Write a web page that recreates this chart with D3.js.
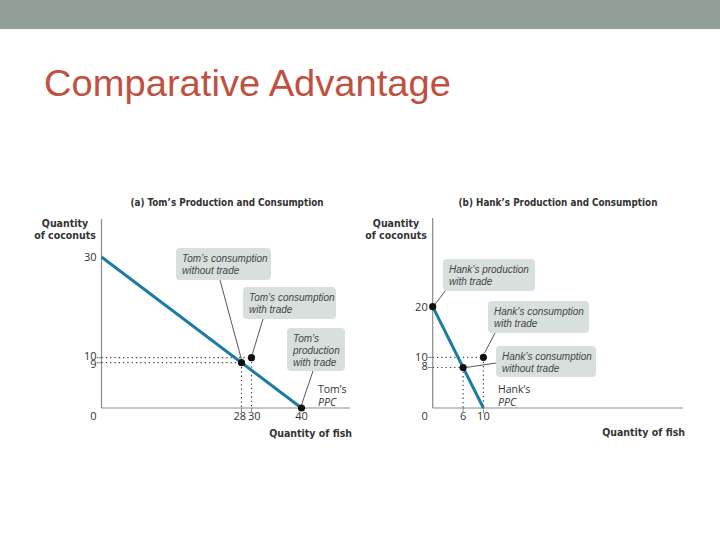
<!DOCTYPE html>
<html><head><meta charset="utf-8">
<script src="https://cdn.jsdelivr.net/npm/d3@7"></script>
<style>
body{margin:0;background:#fff;}
svg{display:block;}
</style></head>
<body>
<svg id="c" width="720" height="540"></svg>
<script>
// ---- data ----
const slideTitle = "Comparative Advantage";
const panelTitles = ["(a) Tom’s Production and Consumption", "(b) Hank’s Production and Consumption"];
const yAxisLabel = ["Quantity", "of coconuts"];
const xAxisLabel = "Quantity of fish";
// PPC endpoints [fish, coconuts]
const tomPPC = [[0, 30], [40, 0]];
const hankPPC = [[0, 20], [10, 0]];
// points [fish, coconuts]
const tomPoints = [[28, 9], [30, 10], [40, 0]];
const hankPoints = [[0, 20], [6, 8], [10, 10]];
// tick values
const tomXTicks = [0, 28, 30, 40];
const tomYTicks = [9, 10, 30];
const hankXTicks = [0, 6, 10];
const hankYTicks = [8, 10, 20];
// annotations
const tomNotes = [
  {lines: ["Tom’s consumption", "without trade"], pt: 0},
  {lines: ["Tom’s consumption", "with trade"], pt: 1},
  {lines: ["Tom’s", "production", "with trade"], pt: 2}
];
const hankNotes = [
  {lines: ["Hank’s production", "with trade"], pt: 0},
  {lines: ["Hank’s consumption", "with trade"], pt: 2},
  {lines: ["Hank’s consumption", "without trade"], pt: 1}
];
const tomPPCLabel = ["Tom’s", "PPC"];
const hankPPCLabel = ["Hank’s", "PPC"];

// ---- drawing ----
const svg = d3.select("#c");
svg.append("rect").attr("x",0).attr("y",0).attr("width",720).attr("height",29).attr("fill","#919f96");
svg.append("text").text(slideTitle).attr("x",44).attr("y",96)
  .attr("font-family","Liberation Sans, Arial, sans-serif").attr("font-size",37)
  .attr("fill","#c0503f").attr("textLength",407).attr("lengthAdjust","spacingAndGlyphs");

const LINE = "#1b7ca3", AX = "#8a8a8a", BOX = "#d7e0dd";
const sansB = "'DejaVu Sans Condensed', 'DejaVu Sans', sans-serif";
const sans = "'Open Sans', 'Noto Sans', sans-serif";
const noteFont = "'Liberation Sans', Arial, sans-serif";

function panel(cfg) {
  const g = svg.append("g");
  const x = d3.scaleLinear().domain(cfg.xd).range(cfg.xr);
  const y = d3.scaleLinear().domain(cfg.yd).range(cfg.yr);
  const x0 = x(0), y0 = y(0);
  // title
  g.append("text").text(cfg.title).attr("x",cfg.titleX).attr("y",206)
    .attr("font-family",sansB).attr("font-weight","bold").attr("font-size",9.8).attr("fill","#333")
    .attr("text-anchor","middle");
  // y label
  yAxisLabel.forEach((t,i)=>g.append("text").text(t).attr("x",cfg.yLabX).attr("y",227+i*12)
    .attr("font-family",sansB).attr("font-weight","bold").attr("font-size",10.5).attr("fill","#333")
    .attr("text-anchor","middle"));
  // x label
  g.append("text").text(xAxisLabel).attr("x",cfg.axisEnd+2).attr("y",cfg.xLabY)
    .attr("font-family",sansB).attr("font-weight","bold").attr("font-size",10.5).attr("fill","#333")
    .attr("text-anchor","end");
  // axes
  g.append("line").attr("x1",x0).attr("x2",x0).attr("y1",cfg.yTop).attr("y2",y0).attr("stroke",AX).attr("stroke-width",1.2);
  g.append("line").attr("x1",x0).attr("x2",cfg.axisEnd).attr("y1",y0).attr("y2",y0).attr("stroke",AX).attr("stroke-width",1.2);
  // tick labels
  cfg.xTicks.forEach((v,i)=>{
    const o = cfg.xTickOff[i];
    g.append("text").text(v).attr("x", x(v)+o[0]).attr("y",y0+12)
      .attr("font-family",sans).attr("font-size",11).attr("fill","#333").attr("text-anchor",o[1]);
  });
  cfg.yTicks.forEach((v,i)=>{
    g.append("text").text(v).attr("x",x0-5).attr("y",y(v)+cfg.yTickOff[i])
      .attr("font-family",sans).attr("font-size",11).attr("fill","#333").attr("text-anchor","end");
  });
  // dotted guides
  cfg.points.forEach((p,i)=>{
    if (p[0]===0 || p[1]===0) return;
    g.append("line").attr("x1",x0).attr("x2",x(p[0])).attr("y1",y(p[1])).attr("y2",y(p[1]))
      .attr("stroke","#444").attr("stroke-width",1.2).attr("stroke-dasharray","1.3,3");
    g.append("line").attr("x1",x(p[0])).attr("x2",x(p[0])).attr("y1",y(p[1])).attr("y2",y0)
      .attr("stroke","#444").attr("stroke-width",1.2).attr("stroke-dasharray","1.3,3");
    // small ticks
    g.append("line").attr("x1",x0-5).attr("x2",x0).attr("y1",y(p[1])).attr("y2",y(p[1])).attr("stroke",AX).attr("stroke-width",1);
    g.append("line").attr("x1",x(p[0])).attr("x2",x(p[0])).attr("y1",y0).attr("y2",y0+5).attr("stroke",AX).attr("stroke-width",1);
  });
  // PPC line
  g.append("path").datum(cfg.ppc).attr("d",d3.line().x(d=>x(d[0])).y(d=>y(d[1])))
    .attr("stroke",LINE).attr("stroke-width",3).attr("fill","none");
  // PPC label
  g.append("text").text(cfg.ppcLabel[0]).attr("x",cfg.ppcLabX).attr("y",393)
    .attr("font-family",sans).attr("font-size",10.5).attr("fill","#333");
  g.append("text").text(cfg.ppcLabel[1]).attr("x",cfg.ppcLabX).attr("y",405.5)
    .attr("font-family",sans).attr("font-style","italic").attr("font-size",10.5).attr("fill","#333");
  // notes
  cfg.notes.forEach((n,i)=>{
    const b = cfg.boxes[i];
    const p = cfg.points[n.pt];
    g.append("line").attr("x1",b.lx).attr("y1",b.ly).attr("x2",x(p[0])+b.dx).attr("y2",y(p[1])+b.dy)
      .attr("stroke","#444").attr("stroke-width",0.9);
    g.append("rect").attr("x",b.x).attr("y",b.y).attr("width",b.w).attr("height",b.h).attr("rx",4)
      .attr("fill",BOX);
    n.lines.forEach((t,j)=>g.append("text").text(t).attr("x",b.x+6).attr("y",b.y+13.5+j*12.3)
      .attr("font-family",noteFont).attr("font-style","italic").attr("font-size",10).attr("fill","#444"));
  });
  // points
  cfg.points.forEach(p=>g.append("circle").attr("cx",x(p[0])).attr("cy",y(p[1])).attr("r",3.6).attr("fill","#111"));
}

panel({
  xd:[0,40], xr:[101.5,301.5], yd:[0,30], yr:[408,257], yTop:219, axisEnd:350,
  title: panelTitles[0], titleX: 227, yLabX: 65, xLabY: 437,
  xTicks: tomXTicks, yTicks: tomYTicks, ppc: tomPPC, points: tomPoints,
  xTickOff: [[-8,"middle"],[4.5,"end"],[-3.5,"start"],[0,"middle"]],
  yTickOff: [5.5, 2, 4],
  ppcLabel: tomPPCLabel, ppcLabX: 318,
  notes: tomNotes,
  boxes: [
    {x:176,y:248,w:95,h:32, lx:220,ly:280, dx:0,dy:-3},
    {x:243,y:287,w:93,h:32, lx:263,ly:319, dx:1,dy:-4},
    {x:287,y:328,w:58,h:43, lx:313,ly:371, dx:0,dy:-3}
  ]
});
panel({
  xd:[0,10], xr:[432.7,483.4], yd:[0,20], yr:[408,306.7], yTop:218, axisEnd:683,
  title: panelTitles[1], titleX: 558, yLabX: 396, xLabY: 436,
  xTicks: hankXTicks, yTicks: hankYTicks, ppc: hankPPC, points: hankPoints,
  xTickOff: [[-8,"middle"],[0,"middle"],[0,"middle"]],
  yTickOff: [3, 3.5, 4],
  ppcLabel: hankPPCLabel, ppcLabX: 498,
  notes: hankNotes,
  boxes: [
    {x:443,y:259,w:92,h:32, lx:446,ly:290, dx:2,dy:-2},
    {x:488,y:301,w:101,h:32, lx:495,ly:333, dx:1,dy:-4},
    {x:496,y:346,w:100,h:31, lx:496,ly:363, dx:3,dy:0}
  ]
});
</script>
</body></html>
